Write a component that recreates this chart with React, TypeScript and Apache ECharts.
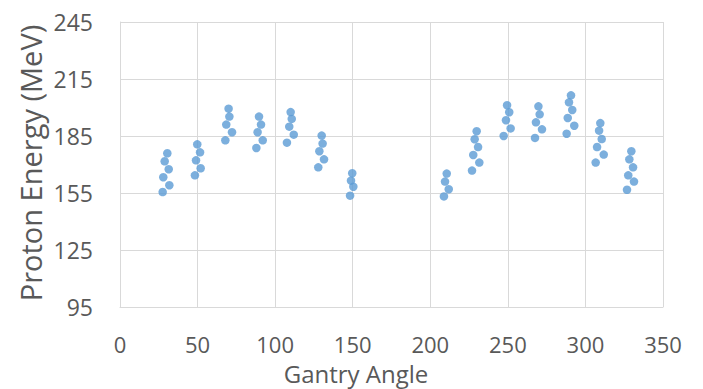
import React, { useEffect, useRef } from "react";
import * as echarts from "echarts";

const xTicks = [0, 50, 100, 150, 200, 250, 300, 350];
const yTicks = [95, 125, 155, 185, 215, 245];

const angles = [
  30.5, 28.8, 31.4, 27.9, 31.8, 27.5,
  49.8, 51.6, 49.0, 52.0, 48.3,
  70.0, 70.5, 68.5, 72.2, 67.9,
  89.6, 90.9, 88.7, 92.0, 87.9,
  110.0, 110.7, 109.1, 112.0, 107.6,
  130.0, 130.6, 128.5, 131.5, 127.8,
  149.7, 148.9, 150.4, 148.3,
  210.6, 209.5, 211.9, 208.8,
  229.9, 228.6, 230.8, 227.7, 231.6, 226.9,
  249.5, 250.9, 248.8, 251.8, 247.3,
  269.7, 270.5, 268.1, 272.0, 267.5,
  290.7, 289.4, 291.5, 288.6, 292.8, 287.9,
  309.6, 308.8, 310.5, 307.5, 311.8, 306.6,
  329.6, 328.3, 330.7, 327.6, 331.3, 326.8,
];
const energies = [
  175.9, 171.7, 167.5, 163.3, 159.1, 155.5,
  180.6, 176.4, 172.2, 168.0, 164.3,
  199.4, 195.2, 191.0, 187.0, 182.7,
  195.2, 191.0, 187.0, 182.7, 178.7,
  197.6, 194.0, 189.9, 185.7, 181.5,
  185.2, 181.0, 177.0, 172.7, 168.5,
  165.4, 161.5, 158.3, 153.6,
  165.2, 161.0, 157.0, 153.2,
  187.5, 183.3, 179.2, 175.0, 171.0, 166.8,
  201.2, 197.5, 193.3, 189.0, 185.0,
  200.6, 196.4, 192.2, 188.5, 184.0,
  206.4, 202.7, 198.7, 194.5, 190.4, 186.2,
  191.8, 187.8, 183.4, 179.2, 175.2, 171.0,
  177.0, 172.7, 168.5, 164.3, 161.0, 156.7,
];

const FONT = "'Open Sans', 'Noto Sans', sans-serif";

export default function App() {
  const ref = useRef<HTMLDivElement>(null);
  useEffect(() => {
    if (!ref.current) return;
    const chart = echarts.init(ref.current, undefined, { renderer: "svg" });
    chart.setOption({
      animation: false,
      backgroundColor: "#ffffff",
      grid: { left: 120, right: 40, top: 22, bottom: 82 },
      xAxis: {
        type: "value",
        min: xTicks[0],
        max: xTicks[xTicks.length - 1],
        interval: 50,
        axisLine: { show: true, lineStyle: { color: "#d9d9d9" } },
        axisTick: { show: false },
        splitLine: { show: true, lineStyle: { color: "#d9d9d9", width: 1 } },
        axisLabel: { color: "#595959", fontSize: 22, fontFamily: FONT, margin: 26 },
      },
      yAxis: {
        type: "value",
        min: yTicks[0],
        max: yTicks[yTicks.length - 1],
        interval: 30,
        axisLine: { show: true, lineStyle: { color: "#d9d9d9" } },
        axisTick: { show: false },
        splitLine: { show: true, lineStyle: { color: "#d9d9d9", width: 1 } },
        axisLabel: { color: "#595959", fontSize: 23, fontFamily: FONT, margin: 27 },
      },
      graphic: [
        {
          type: "text",
          x: 356,
          y: 373,
          style: {
            text: "Gantry Angle",
            fill: "#595959",
            font: `24px ${FONT}`,
            textAlign: "center",
            textVerticalAlign: "middle",
          },
        },
        {
          type: "text",
          x: 30,
          y: 163,
          rotation: Math.PI / 2,
          style: {
            text: "Proton Energy (MeV)",
            fill: "#595959",
            font: `29px ${FONT}`,
            textAlign: "center",
            textVerticalAlign: "middle",
          },
        },
      ],
      series: [
        {
          type: "scatter",
          symbol: "circle",
          symbolSize: 8.5,
          itemStyle: { color: "#5B9BD5" },
          data: angles.map((a, i) => [a, energies[i]]),
        },
      ],
    });
    return () => chart.dispose();
  }, []);
  return <div ref={ref} style={{ width: 703, height: 389, position: "absolute", left: 0, top: 0 }} />;
}
